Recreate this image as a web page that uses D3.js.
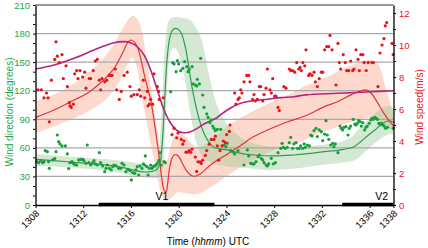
<!DOCTYPE html>
<html>
<head>
<meta charset="utf-8">
<script src="https://cdn.jsdelivr.net/npm/d3@7"></script>
<style>
  html, body { margin: 0; padding: 0; background: #fff; }
  svg { display: block; font-family: Arial, "Liberation Sans", sans-serif; }
</style>
</head>
<body>
<svg id="chart" width="428" height="248"></svg>
<script>
// time is hhmm UTC (1308..1338, all inside one hour so it is linear in minutes)
const timeTicks = [1308, 1312, 1316, 1320, 1324, 1328, 1332, 1336, 1338];
const dirTicks = [0, 30, 60, 90, 120, 150, 180, 210];
const speedTicks = [0, 2, 4, 6, 8, 10, 12];
const gridDirs = [30, 60, 90, 120, 150, 180];
const periods = [
  { name: 'V1', from: 1313.3, to: 1323.0, labelAt: 1318.6 },
  { name: 'V2', from: 1333.7, to: 1338.0, labelAt: 1337.0 }
];

// observed wind direction (degrees)
const dirPoints = [
  [1308.10,45.5],[1308.27,44.4],[1308.43,46.5],[1308.60,44.4],[1308.71,45.5],[1308.82,57.0],[1308.99,56.0],[1309.10,45.5],[1309.16,38.5],[1309.44,47.3],[1309.61,48.7],[1309.72,56.0],[1309.83,73.5],[1309.94,66.5],[1310.05,64.1],[1310.22,62.0],[1310.50,62.0],[1310.67,53.6],[1310.78,38.2],[1310.89,44.4],[1311.06,45.5],[1311.17,43.8],[1311.28,42.3],[1311.45,42.0],[1311.62,47.3],[1311.79,48.0],[1311.96,48.0],[1312.06,46.5],[1312.23,43.8],[1312.34,63.0],[1312.46,44.4],[1312.63,42.0],[1312.79,44.4],[1312.90,46.5],[1313.01,43.1],[1313.18,42.0],[1313.35,54.9],[1313.46,44.4],[1313.63,41.0],[1313.80,35.0],[1313.91,38.5],[1314.02,42.0],[1314.19,38.5],[1314.35,36.8],[1314.47,40.3],[1314.58,42.0],[1314.75,41.0],[1314.97,38.5],[1315.14,38.5],[1315.25,43.8],[1315.42,42.0],
  [1315.58,35.0],[1315.75,37.5],[1315.92,36.1],[1316.03,26.3],[1316.14,34.0],[1316.31,33.3],[1316.42,36.8],[1316.53,40.3],[1316.65,31.5],[1316.76,41.0],[1316.92,38.5],[1317.04,43.1],[1317.15,42.0],[1317.20,51.5],[1317.32,40.3],[1317.43,31.5],[1317.54,38.5],[1317.65,42.0],[1317.76,38.5],[1317.87,40.3],[1317.99,41.0],[1318.10,42.0],[1318.21,43.8],[1318.32,46.5],[1318.43,54.9],[1318.54,42.0],[1318.77,45.5],[1318.88,44.4],
  [1319.33,119.0],[1319.50,149.4],[1319.61,148.1],[1319.78,140.0],[1319.89,151.5],[1320.00,148.1],[1320.17,141.0],[1320.34,143.5],[1320.50,150.5],[1320.67,145.2],[1320.78,140.0],[1320.89,142.5],[1321.12,145.2],[1321.23,127.1],[1321.39,126.0],[1321.51,125.0],[1321.56,132.0],[1321.73,127.1],[1321.84,154.0],[1322.01,115.5],[1322.12,102.6],[1322.35,95.6],[1322.46,92.1],[1322.62,86.4],[1322.73,89.3],[1322.85,82.9],[1322.96,80.5],[1323.07,78.0],
  [1323.24,79.5],[1323.52,79.5],[1323.80,63.0],[1323.96,61.2],[1324.07,64.8],[1324.36,57.0],[1324.52,56.0],[1324.69,53.6],[1324.97,57.0],[1325.47,42.0],[1325.75,57.8],[1325.87,51.5],[1326.03,43.8],[1326.20,43.1],[1326.31,43.1],[1326.48,45.5],[1326.65,50.7],[1326.76,52.5],[1326.92,49.0],[1327.04,47.3],[1327.15,44.4],[1327.32,42.0],[1327.43,41.0],[1327.54,43.1],[1327.76,49.0],[1327.93,43.1],[1328.10,44.4],[1328.32,54.9],[1328.55,59.5],[1328.66,64.8],[1328.77,60.6],[1328.93,59.5],[1329.10,60.6],[1329.27,65.4],[1329.39,71.1],[1329.55,59.5],[1329.66,64.1],[1329.83,65.4],[1329.94,59.5],[1330.11,59.5],[1330.22,62.0],[1330.40,59.5],[1330.51,64.1],[1330.61,60.6],
  [1330.78,63.0],[1330.95,62.0],[1331.06,73.5],[1331.17,72.5],[1331.34,78.0],[1331.51,80.5],[1331.62,71.8],[1331.78,78.8],[1331.95,77.0],[1332.07,67.5],[1332.23,74.5],[1332.34,88.5],[1332.45,73.5],[1332.57,69.0],[1332.74,63.0],[1332.90,64.8],[1333.01,61.2],[1333.12,64.1],[1333.35,54.9],[1333.52,82.9],[1333.63,80.5],[1333.74,78.8],[1333.85,81.6],[1334.02,82.2],[1334.19,73.5],[1334.30,80.5],[1334.41,82.9],[1334.63,90.0],[1334.75,85.0],[1334.86,84.0],[1334.97,85.8],[1335.08,88.5],[1335.19,87.5],[1335.30,82.9],[1335.42,86.4],[1335.58,78.8],[1335.69,81.6],[1335.80,82.9],[1335.97,85.8],[1336.09,89.3],[1336.20,91.0],[1336.31,90.0],[1336.43,92.1],[1336.54,91.0],[1336.65,90.0],[1336.77,85.8],[1336.88,85.0],[1336.99,85.8],[1337.11,84.0],[1337.22,82.9],[1337.33,80.5],[1337.50,81.6],[1337.97,80.5]
];

// observed wind speed (m/s)
const speedPoints = [
  [1308.21,7.2],[1308.49,7.2],[1308.71,6.7],[1308.93,7.0],[1309.05,6.7],[1309.16,5.2],[1309.33,7.8],[1309.61,9.1],[1309.72,10.2],[1309.83,9.3],[1310.00,8.9],[1310.22,9.4],[1310.33,7.9],[1310.56,8.7],[1310.67,7.4],[1310.83,6.4],[1310.89,6.2],[1311.00,6.1],[1311.17,6.3],[1311.28,8.2],[1311.45,8.4],[1311.56,7.9],[1311.73,8.4],[1311.95,8.0],[1312.12,8.3],[1312.23,7.3],[1312.51,7.9],[1312.62,7.9],[1312.84,8.4],[1313.01,9.0],[1313.18,9.1],[1313.35,7.8],[1313.46,7.2],[1313.57,7.9],[1313.80,7.7],[1313.97,7.8],[1314.18,8.1],[1314.30,8.1],[1314.41,8.1],[1314.69,8.5],[1314.80,7.2],[1315.02,6.6],[1315.19,7.1],[1315.42,8.1],
  [1315.69,8.3],[1315.92,7.4],[1316.03,6.8],[1316.25,6.9],[1316.53,6.9],[1316.70,7.2],[1316.82,6.8],[1317.03,7.8],[1317.15,6.7],[1317.37,7.1],[1317.43,6.2],[1317.54,6.3],[1317.65,6.6],[1317.82,6.3],[1317.93,8.2],[1318.21,7.4],[1318.32,7.1],[1318.37,6.6],[1318.71,6.7],
  [1319.44,4.4],[1319.61,4.8],[1319.83,4.2],[1319.94,4.5],[1320.22,4.1],[1320.34,3.8],[1320.44,4.0],[1320.61,3.3],[1320.72,3.3],[1320.89,3.4],[1321.00,3.3],[1321.12,3.5],[1321.39,3.0],[1321.51,2.1],[1321.62,2.7],[1321.79,2.7],[1321.89,2.6],[1322.01,2.8],[1322.23,3.1],[1322.35,3.4],[1322.56,3.8],[1322.73,4.1],[1322.96,4.1],[1323.07,4.3],
  [1323.24,3.7],[1323.35,2.8],[1323.46,3.4],[1323.63,3.7],[1323.74,4.0],[1323.91,3.9],[1324.02,4.4],[1324.24,4.6],[1324.30,5.0],[1324.69,7.0],[1324.80,6.3],[1324.97,6.6],[1325.08,6.7],[1325.20,7.2],[1325.30,7.0],[1325.47,7.7],[1325.70,8.1],[1325.87,8.1],[1325.97,7.7],[1326.20,6.6],[1326.31,6.9],[1326.42,6.5],[1326.59,6.6],[1326.76,7.4],[1326.87,7.4],[1327.04,6.5],[1327.15,6.9],[1327.32,7.3],[1327.43,8.5],[1327.65,7.2],[1327.76,7.0],[1327.88,7.9],[1328.05,6.8],[1328.15,6.8],[1328.32,6.1],[1328.43,5.9],[1328.82,7.4],[1328.99,7.3],[1329.27,8.5],[1329.39,8.4],[1329.55,8.4],[1329.72,8.3],[1329.89,8.9],[1330.06,8.5],[1330.17,8.6],[1330.27,8.4],[1330.40,8.9],[1330.56,8.7],[1330.67,9.7],
  [1330.89,8.1],[1331.00,8.2],[1331.17,8.1],[1331.34,8.3],[1331.45,7.7],[1331.62,7.4],[1331.78,7.9],[1331.95,8.3],[1332.07,8.3],[1332.23,9.7],[1332.40,9.9],[1332.57,9.9],[1332.68,10.6],[1332.85,9.7],[1333.18,7.5],[1333.35,10.1],[1333.46,8.9],[1333.58,8.5],[1333.79,9.4],[1333.96,8.9],[1334.08,8.4],[1334.25,8.4],[1334.41,9.0],[1334.58,8.4],[1334.69,8.5],[1334.86,9.7],[1335.03,9.1],[1335.14,8.4],[1335.26,9.4],[1335.43,9.4],[1335.54,8.9],[1335.71,8.4],[1335.88,8.9],[1336.20,8.9],[1336.31,8.9],[1336.70,7.4],[1336.87,9.5],[1337.04,10.0],[1337.20,10.4],[1337.31,11.2],[1337.43,11.4],[1337.88,10.1],[1337.97,9.4]
];

// fitted wind direction (degrees) and its band
const dirFit = [
  [1308.0,48.0],[1309.55,46.5],[1311.23,44.8],[1312.90,43.1],[1314.58,41.0],[1315.58,38.5],[1316.82,35.0],[1317.65,35.0],[1318.10,36.8],[1318.32,40.2],[1318.49,47.3],[1318.60,61.2],[1318.71,82.2],[1318.83,110.3],[1318.94,138.3],[1319.10,162.8],[1319.27,176.7],[1319.50,183.8],[1319.72,185.5],[1319.94,184.5],[1320.22,180.3],[1320.55,166.2],[1320.84,145.2],[1321.11,124.2],[1321.39,106.8],[1321.73,89.3],[1322.12,75.3],[1322.56,65.4],[1322.96,60.6],[1324.07,57.8],[1325.20,54.3],[1326.31,52.5],[1327.99,51.5],[1329.66,52.5],[1330.67,53.6],[1332.17,56.0],[1333.85,58.5],[1334.69,61.2],[1335.25,66.5],[1335.81,72.5],[1336.37,78.0],[1336.93,84.0],[1337.48,88.2],[1338.0,87.2]
];
const dirBandHigh = [
  [1308.0,53.6],[1310.05,51.5],[1312.57,49.4],[1314.66,47.3],[1315.92,45.2],[1317.60,42.0],[1318.10,44.1],[1318.35,57.8],[1318.52,89.3],[1318.69,131.3],[1318.86,168.0],[1319.02,185.9],[1319.27,195.3],[1319.69,197.4],[1320.28,196.4],[1320.95,194.3],[1321.45,185.9],[1321.87,175.4],[1322.21,157.5],[1322.54,136.5],[1322.87,118.7],[1323.29,101.9],[1323.80,89.3],[1324.47,78.8],[1325.56,68.3],[1326.82,63.0],[1328.49,60.9],[1330.17,60.9],[1331.84,63.0],[1333.51,66.2],[1334.35,70.4],[1335.02,78.8],[1335.69,87.2],[1336.37,95.6],[1337.04,101.9],[1337.54,104.0],[1338.0,101.9]
];
const dirBandLow = [
  [1308.0,41.0],[1310.05,39.9],[1312.57,37.8],[1314.66,34.7],[1315.92,31.5],[1317.60,28.4],[1318.27,28.4],[1318.60,34.7],[1318.77,57.8],[1318.94,99.8],[1319.10,136.5],[1319.27,157.5],[1319.52,164.9],[1319.86,162.8],[1320.19,150.2],[1320.53,131.3],[1320.86,105.0],[1321.20,80.9],[1321.53,63.0],[1322.04,50.4],[1322.79,44.1],[1323.88,41.0],[1325.56,38.9],[1327.65,36.8],[1330.17,38.9],[1331.84,42.0],[1333.51,44.1],[1334.77,47.3],[1335.61,55.7],[1336.45,65.1],[1337.12,71.4],[1337.71,74.6],[1338.0,74.6]
];

// fitted wind speed (m/s) and its band
const speedFit = [
  [1308.0,5.48],[1309.55,5.94],[1311.23,6.56],[1312.34,6.98],[1313.46,7.64],[1314.58,8.54],[1315.42,9.69],[1315.69,10.11],[1315.98,10.31],[1316.25,10.21],[1316.53,9.89],[1316.82,9.17],[1317.09,8.23],[1317.37,7.39],[1317.65,6.56],[1317.93,5.31],[1318.21,3.86],[1318.43,2.61],[1318.60,1.56],[1318.77,0.94],[1318.94,0.83],[1319.04,1.14],[1319.21,2.19],[1319.38,2.81],[1319.61,3.13],[1319.83,3.13],[1320.05,2.97],[1320.34,2.56],[1320.61,2.19],[1320.89,1.94],[1321.17,1.81],[1321.45,1.81],[1321.79,1.94],[1322.12,2.13],[1322.46,2.38],[1323.13,2.75],[1323.96,3.13],[1325.13,3.69],[1326.22,4.25],[1327.65,4.75],[1329.07,5.19],[1330.58,5.56],[1332.17,6.13],[1333.26,6.44],[1334.43,6.88],[1335.27,7.13],[1335.69,7.19],[1336.11,7.0],[1336.61,6.46],[1337.20,5.73],[1337.79,5.11],[1338.0,4.94]
];
const speedBandHigh = [
  [1308.0,6.50],[1309.22,6.81],[1310.89,7.44],[1312.15,8.13],[1313.41,8.94],[1314.41,9.88],[1315.25,10.94],[1315.75,11.56],[1316.17,11.81],[1316.59,11.56],[1316.92,10.81],[1317.26,9.38],[1317.59,7.81],[1317.93,6.06],[1318.27,4.38],[1318.60,2.94],[1318.94,2.56],[1319.27,3.56],[1319.69,4.31],[1320.11,4.50],[1320.61,4.25],[1321.11,3.81],[1321.62,3.63],[1322.29,3.81],[1323.04,4.31],[1324.13,4.94],[1325.13,5.44],[1326.39,5.94],[1327.65,6.38],[1329.16,6.88],[1330.58,7.44],[1332.26,7.94],[1333.93,8.56],[1335.19,8.94],[1336.03,9.06],[1336.70,8.81],[1337.28,7.50],[1337.70,6.44],[1338.0,5.81]
];
const speedBandLow = [
  [1308.0,4.50],[1309.22,4.81],[1310.89,5.31],[1312.15,5.75],[1313.41,6.31],[1314.24,6.88],[1314.91,7.56],[1315.42,8.31],[1315.75,8.88],[1316.09,9.19],[1316.42,8.81],[1316.67,7.81],[1316.92,6.69],[1317.26,5.44],[1317.60,4.06],[1317.93,2.81],[1318.27,1.56],[1318.60,0.56],[1318.94,0.25],[1319.44,0.50],[1319.94,0.81],[1320.44,0.75],[1320.95,0.69],[1321.62,0.69],[1322.29,0.94],[1322.96,1.25],[1323.80,1.69],[1324.80,2.19],[1325.97,2.69],[1327.23,3.19],[1328.66,3.63],[1330.17,3.94],[1331.84,4.50],[1333.51,4.94],[1335.02,5.31],[1336.19,5.44],[1336.87,5.19],[1337.54,4.81],[1338.0,4.69]
];

// third (magenta) curve, read against the speed axis
const modelSpeed = [
  [1308.0,8.50],[1309.55,8.75],[1311.23,9.17],[1312.90,9.69],[1314.58,10.14],[1315.42,10.21],[1315.98,10.14],[1316.53,9.89],[1317.09,9.38],[1317.65,8.44],[1318.21,7.19],[1318.77,5.94],[1319.33,5.11],[1319.88,4.64],[1320.44,4.52],[1321.00,4.58],[1321.56,4.79],[1322.12,5.06],[1322.68,5.27],[1323.13,5.42],[1324.07,5.94],[1325.20,6.36],[1326.31,6.52],[1327.43,6.61],[1328.55,6.71],[1329.66,6.77],[1330.67,6.88],[1333.29,6.98],[1336.09,7.08],[1338.0,7.14]
];

(function () {
  'use strict';

  const GREEN = '#14a03c';
  const GREEN_TXT = '#22a64e';
  const RED = '#e8141c';
  const MAGENTA = '#b3237f';

  const svg = d3.select('#chart');
  const left = 35.5, right = 393.5, top = 5, bottom = 205;

  const x = d3.scaleLinear().domain([1308, 1338]).range([left, right]);
  const yDir = d3.scaleLinear().domain([0, 210]).range([bottom, top]);
  const ySpeed = d3.scaleLinear().domain([0, 12.5]).range([bottom, top]);

  function lineFor(yScale, curve) {
    return d3.line()
      .x(function (d) { return x(d[0]); })
      .y(function (d) { return yScale(d[1]); })
      .curve(curve);
  }

  function bandPath(high, low, yScale) {
    const ln = lineFor(yScale, d3.curveCatmullRom.alpha(0.5));
    const a = ln(high);
    const b = ln(low.slice().reverse());
    return a + 'L' + b.slice(1) + 'Z';
  }

  const plot = svg.append('g');

  // shaded bands
  plot.append('path')
    .attr('d', bandPath(speedBandHigh, speedBandLow, ySpeed))
    .attr('fill', '#f7a586')
    .attr('fill-opacity', 0.42);
  plot.append('path')
    .attr('d', bandPath(dirBandHigh, dirBandLow, yDir))
    .attr('fill', '#9cc995')
    .attr('fill-opacity', 0.42);

  // horizontal grid
  plot.append('g').selectAll('line').data(gridDirs).join('line')
    .attr('x1', left).attr('x2', right)
    .attr('y1', function (d) { return yDir(d); })
    .attr('y2', function (d) { return yDir(d); })
    .attr('stroke', '#a9a9a9')
    .attr('stroke-width', 1.3);

  // fitted curves
  plot.append('path')
    .attr('d', lineFor(yDir, d3.curveCatmullRom.alpha(0.5))(dirFit))
    .attr('fill', 'none').attr('stroke', '#2a9e4e').attr('stroke-width', 1.2);
  plot.append('path')
    .attr('d', lineFor(ySpeed, d3.curveCatmullRom.alpha(0.5))(speedFit))
    .attr('fill', 'none').attr('stroke', '#e6323a').attr('stroke-width', 1.2);
  plot.append('path')
    .attr('d', lineFor(ySpeed, d3.curveCatmullRom.alpha(0.5))(modelSpeed))
    .attr('fill', 'none').attr('stroke', MAGENTA).attr('stroke-width', 1.6);

  // observations
  plot.append('g').selectAll('circle').data(dirPoints).join('circle')
    .attr('cx', function (d) { return x(d[0]); })
    .attr('cy', function (d) { return yDir(d[1]); })
    .attr('r', 1.6)
    .attr('fill', GREEN);
  plot.append('g').selectAll('circle').data(speedPoints).join('circle')
    .attr('cx', function (d) { return x(d[0]); })
    .attr('cy', function (d) { return ySpeed(d[1]); })
    .attr('r', 1.6)
    .attr('fill', RED);

  // frame top
  svg.append('line')
    .attr('x1', left).attr('x2', right).attr('y1', top).attr('y2', top)
    .attr('stroke', '#777').attr('stroke-width', 1.5);

  // left axis: minor ticks every 10, labels every 30
  const leftAxis = svg.append('g')
    .attr('transform', 'translate(' + left + ',0)')
    .call(d3.axisLeft(yDir)
      .tickValues(d3.range(0, 211, 10))
      .tickSize(2.5)
      .tickSizeOuter(0)
      .tickPadding(3)
      .tickFormat(function (d) { return dirTicks.indexOf(d) >= 0 ? d : ''; }));
  leftAxis.selectAll('text').attr('fill', GREEN_TXT).style('font-size', '9.5px');
  leftAxis.selectAll('line').attr('stroke', '#000');
  leftAxis.select('.domain').attr('stroke', '#000').attr('stroke-width', 1.3);

  // right axis: ticks every 1, labels every 2
  const rightAxis = svg.append('g')
    .attr('transform', 'translate(' + right + ',0)')
    .call(d3.axisRight(ySpeed)
      .tickValues(d3.range(0, 13, 1))
      .tickSize(2.5)
      .tickSizeOuter(0)
      .tickPadding(3)
      .tickFormat(function (d) { return speedTicks.indexOf(d) >= 0 ? d : ''; }));
  rightAxis.selectAll('text').attr('fill', RED).style('font-size', '9.5px');
  rightAxis.selectAll('line').attr('stroke', '#000');
  rightAxis.select('.domain').attr('stroke', '#000').attr('stroke-width', 1.3);

  // bottom axis with rotated labels
  const bottomAxis = svg.append('g')
    .attr('transform', 'translate(0,' + bottom + ')')
    .call(d3.axisBottom(x)
      .tickValues(timeTicks)
      .tickSize(3)
      .tickSizeOuter(0)
      .tickFormat(d3.format('d')));
  bottomAxis.select('.domain').attr('stroke', '#000').attr('stroke-width', 1.3);
  bottomAxis.selectAll('line').attr('stroke', '#000');
  bottomAxis.selectAll('text')
    .attr('fill', '#000')
    .style('font-size', '9.5px')
    .attr('text-anchor', 'end')
    .attr('dy', null)
    .attr('y', 0)
    .attr('transform', 'translate(4,9) rotate(-45)');

  // V1 / V2 periods on the time axis
  svg.append('g').selectAll('line').data(periods).join('line')
    .attr('x1', function (d) { return x(d.from); })
    .attr('x2', function (d) { return x(d.to); })
    .attr('y1', bottom - 0.5).attr('y2', bottom - 0.5)
    .attr('stroke', '#000').attr('stroke-width', 3.5);
  svg.append('g').selectAll('text').data(periods).join('text')
    .attr('x', function (d) { return x(d.labelAt); })
    .attr('y', bottom - 5)
    .attr('text-anchor', 'middle')
    .style('font-size', '10.5px')
    .attr('fill', '#000')
    .text(function (d) { return d.name; });

  // axis titles
  svg.append('text')
    .attr('transform', 'translate(13,112) rotate(-90)')
    .attr('text-anchor', 'middle')
    .style('font-size', '10px')
    .attr('fill', GREEN_TXT)
    .text('Wind direction (degrees)');
  svg.append('text')
    .attr('transform', 'translate(423,107) rotate(-90)')
    .attr('text-anchor', 'middle')
    .style('font-size', '10px')
    .attr('fill', RED)
    .text('Wind speed(m/s)');
  const xt = svg.append('text')
    .attr('x', 208).attr('y', 245)
    .attr('text-anchor', 'middle')
    .style('font-size', '10px')
    .attr('fill', '#000');
  xt.append('tspan').text('Time (');
  xt.append('tspan').style('font-style', 'italic').text('hhmm');
  xt.append('tspan').text(') UTC');
})();
</script>
</body>
</html>
